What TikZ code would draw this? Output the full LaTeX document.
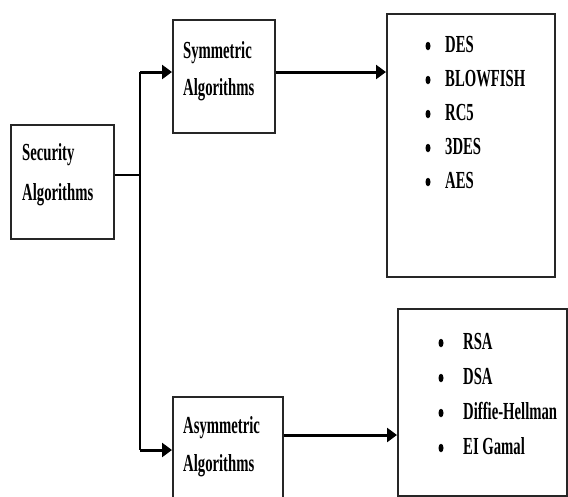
\documentclass[tikz,border=0pt]{standalone}
\usepackage{fontspec}
\newfontfamily\lbl{Liberation Serif}[FakeStretch=0.6]
\usetikzlibrary{arrows.meta,shapes.geometric}
\begin{document}
\begin{tikzpicture}[x=1pt,y=-1pt,
  box/.style={draw=black!85,line width=1.8pt,inner sep=0pt,anchor=north west},
  txt/.style={inner sep=0pt,anchor=base west,font=\lbl\bfseries\fontsize{24.5}{28}\selectfont},
  bul/.style={ellipse,fill=black,inner sep=0pt,minimum width=5pt,minimum height=8.5pt},
  thinline/.style={line width=1.6pt},
  thickarrow/.style={line width=3pt,-{Triangle[length=10pt,width=14pt]}}]
\useasboundingbox (0,0) rectangle (568,496);
% boxes
\node[box,minimum width=103pt,minimum height=114pt] (sec) at (10,124) {};
\node[box,minimum width=102pt,minimum height=113pt] (sym) at (172,19) {};
\node[box,minimum width=110pt,minimum height=120pt] (asym) at (172,396) {};
\node[box,minimum width=168pt,minimum height=263pt] (slist) at (386,13) {};
\node[box,minimum width=169pt,minimum height=187pt] (alist) at (397,308) {};
% labels
\node[txt] (t1) at (22,160) {Security};
\node[txt] (t2) at (22,200) {Algorithms};
\node[txt] (t3) at (183,58) {Symmetric};
\node[txt] (t4) at (183,95) {Algorithms};
\node[txt] (t5) at (183,433) {Asymmetric};
\node[txt] (t6) at (183,471) {Algorithms};
% lists
\foreach \t [count=\i] in {DES,BLOWFISH,RC5,3DES,AES} {
  \node[bul] (sb\i) at (428,46+34*\i-34) {};
  \node[txt] (s\i) at (445,52+34*\i-34) {\t};
}
\foreach \t [count=\i] in {RSA,DSA,Diffie-Hellman,EI Gamal} {
  \node[bul] (ab\i) at (441,343+35*\i-35) {};
  \node[txt] (a\i) at (463,349+35*\i-35) {\t};
}
% connectors
\coordinate (j0) at (140,175);
\coordinate (j1) at (140,72);
\coordinate (j2) at (140,450);
\draw[thinline] (sec.east |- j0) -- (j0);
\draw[thinline] (j1) -- (j2);
\draw[thickarrow] (j1) -- (sym.west |- j1);
\draw[thickarrow] (j2) -- (asym.west |- j2);
\coordinate (k1) at (0,72);
\coordinate (k2) at (0,435);
\draw[thickarrow] (sym.east |- k1) -- (slist.west |- k1);
\draw[thickarrow] (asym.east |- k2) -- (alist.west |- k2);
\end{tikzpicture}
\end{document}
